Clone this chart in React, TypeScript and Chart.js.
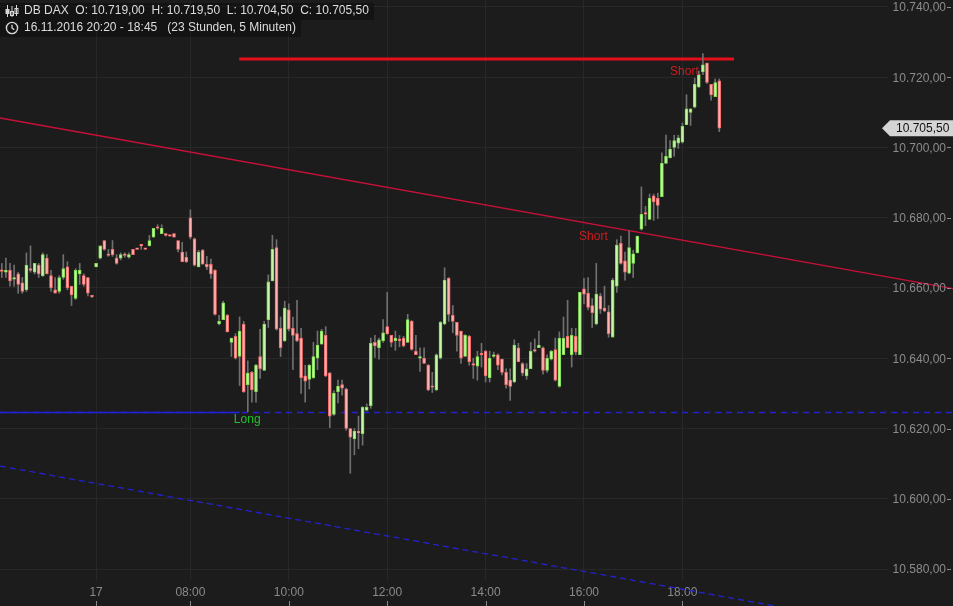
import React, { useEffect, useRef } from 'react';
import { Chart, registerables } from 'chart.js';

Chart.register(...registerables);

// ---- data (5-minute candles, DB DAX) ----
const OPEN = [
  10665, 10664.5, 10665, 10662.5, 10664, 10661.5, 10659.5, 10665.5, 10664.5, 10666.5,
  10663.5, 10668.5, 10663.5, 10659.5, 10659, 10663, 10666, 10660.5, 10657, 10664,
  10663.5, 10663, 10657.5, 10666, 10668.5, 10673.5, 10669.5, 10671, 10668.5, 10668.5,
  10669.5, 10668.75, 10671, 10671, 10672.25, 10671, 10672, 10674.5, 10677, 10675.5,
  10675.5, 10674.75, 10675.5, 10673.5, 10670.25, 10668.75, 10680, 10674, 10666, 10670.75,
  10666.75, 10666.75, 10665, 10649.75, 10651, 10652.25, 10644.5, 10646.25, 10640.5, 10649.75,
  10632.5, 10636, 10630.5, 10640.5, 10636.5, 10651, 10662, 10671.5, 10648.5, 10645,
  10653.75, 10648.5, 10647, 10645.75, 10635, 10634, 10634.5, 10640, 10644, 10646.5,
  10635.75, 10624, 10630.5, 10632.5, 10631.25, 10620, 10617, 10618.75, 10618.5, 10625.25,
  10626.5, 10644.5, 10643, 10645, 10649, 10646.5, 10645, 10645, 10645.75, 10644.5,
  10650.5, 10642, 10640, 10640, 10638, 10631.75, 10631, 10640, 10649.75, 10662.75,
  10652.25, 10650.25, 10647.75, 10640.5, 10646.25, 10638.5, 10637.75, 10641, 10642, 10634.5,
  10640.5, 10641, 10639.75, 10636, 10633.75, 10633.25, 10643, 10638.5, 10635, 10637,
  10642.5, 10643, 10643, 10636.5, 10639.75, 10642.5, 10632, 10641, 10646.25, 10641,
  10646.25, 10641, 10659.75, 10658.5, 10655, 10649.75, 10657.75, 10654.25, 10653.25, 10646,
  10660.5, 10672.75, 10667.75, 10664.25, 10667, 10670, 10676.75, 10681.5, 10679.5, 10686.25,
  10685.5, 10686, 10695.5, 10697, 10700, 10701.25, 10701.5, 10706.5, 10710, 10711.5,
  10717.25, 10721.5, 10724, 10718, 10714.5, 10719
];
const HIGH = [
  10667, 10668.5, 10667, 10666.5, 10664.5, 10663, 10670, 10672, 10667, 10667,
  10670, 10669.5, 10665, 10663, 10663.5, 10669.5, 10667.5, 10660.5, 10665.5, 10667,
  10664, 10663, 10657.75, 10667, 10672, 10673.5, 10671, 10673.5, 10669.5, 10670,
  10670, 10670, 10671, 10671, 10672.25, 10671, 10675, 10677, 10678, 10678,
  10675.5, 10674.75, 10675.5, 10673.5, 10673, 10670.25, 10682.25, 10674.25, 10670.75, 10671,
  10669, 10668.25, 10665.25, 10652.25, 10656.25, 10652.5, 10645.75, 10647, 10651.75, 10650.5,
  10639.25, 10636.25, 10638.25, 10648.25, 10650.5, 10663.75, 10675, 10673.75, 10651.75, 10656.25,
  10655.5, 10651.75, 10656.5, 10648.5, 10638, 10638.25, 10644.5, 10647.75, 10648.25, 10649,
  10636, 10630.75, 10633.75, 10633.75, 10631.5, 10620, 10620, 10623.5, 10626.25, 10627,
  10645.75, 10646.5, 10645.75, 10651, 10658.75, 10646.5, 10647.75, 10646.5, 10646.25, 10652.5,
  10650.75, 10646.5, 10643, 10643, 10638.25, 10636, 10641.25, 10650.5, 10665.75, 10663,
  10655, 10650.25, 10647.75, 10646.75, 10646.5, 10640, 10642, 10644.25, 10642.25, 10642,
  10641.75, 10641.25, 10639.75, 10637, 10637, 10645.25, 10644.25, 10638.75, 10638.5, 10644.5,
  10645.5, 10647.75, 10643.25, 10641, 10642.25, 10645.75, 10647.5, 10651.75, 10656.5, 10648.5,
  10648.5, 10658.75, 10662.75, 10663, 10657, 10667, 10658.5, 10660.5, 10655, 10662.75,
  10673.75, 10674.75, 10670.25, 10676.25, 10670.75, 10674.75, 10688.75, 10683.25, 10686.75, 10686.75,
  10687, 10698.5, 10703.5, 10702, 10703.5, 10703.5, 10707, 10715, 10711, 10719.75,
  10721.75, 10726.75, 10724, 10718, 10719.5, 10719.5
];
const LOW = [
  10663, 10663, 10660.5, 10660.5, 10658.5, 10658.5, 10659, 10664.5, 10664, 10663,
  10663.25, 10664, 10659, 10658.5, 10658.5, 10662.5, 10659.5, 10655, 10656.75, 10661,
  10660.5, 10657.75, 10657.25, 10666, 10668.25, 10670.75, 10669, 10669, 10666.75, 10668,
  10668.75, 10668.5, 10669.5, 10671, 10671, 10671, 10672, 10674.5, 10676.75, 10675.5,
  10674.75, 10674.75, 10674.5, 10670.25, 10667.5, 10667.25, 10674, 10666.25, 10666, 10666.75,
  10665.25, 10662.75, 10652.25, 10649.5, 10651, 10647.5, 10640.5, 10639.75, 10632.25, 10630.25,
  10624.75, 10627.5, 10627.5, 10634.25, 10636.5, 10648.75, 10662, 10648, 10640.5, 10644.75,
  10647.75, 10636.75, 10644.75, 10630, 10627.5, 10631.25, 10634.25, 10636.75, 10644, 10634.75,
  10620.25, 10623.75, 10627.25, 10629.5, 10619.5, 10607.25, 10612.5, 10614.25, 10615.25, 10625,
  10625.75, 10640.25, 10639.75, 10644.5, 10646.75, 10643.25, 10642.25, 10643.25, 10643.25, 10644.5,
  10642.25, 10641, 10636.25, 10638.5, 10630.75, 10630.25, 10630.75, 10639.75, 10649.5, 10650.5,
  10647.25, 10642, 10638.5, 10640.5, 10638, 10634.25, 10633.75, 10637.5, 10633.25, 10633.25,
  10640.25, 10636.75, 10635.25, 10631.5, 10628, 10633, 10639, 10635, 10634, 10637,
  10641.75, 10643, 10635.5, 10636, 10639.5, 10633.5, 10631.75, 10641, 10643, 10637.5,
  10641, 10641, 10655.5, 10653.75, 10648.75, 10649.5, 10652.75, 10653.25, 10646, 10646,
  10658.75, 10666.75, 10662.25, 10664, 10663, 10670, 10676.5, 10677.75, 10679.5, 10679.25,
  10679.75, 10686, 10695.5, 10697, 10697.5, 10699.75, 10701.25, 10706.5, 10706.25, 10711.25,
  10717, 10720.75, 10718.25, 10713.5, 10714.5, 10704.5
];
const CLOSE = [
  10664.75, 10665, 10662, 10663, 10661, 10659, 10666.5, 10665, 10667, 10664,
  10669.5, 10664, 10660, 10658.5, 10663, 10665.5, 10660, 10658, 10665, 10665,
  10661, 10658.5, 10657.5, 10667, 10672, 10671, 10669.25, 10669.5, 10667, 10669.5,
  10669.25, 10669.5, 10669.5, 10671, 10672, 10671, 10673.5, 10677, 10677, 10677,
  10675, 10674.75, 10674.5, 10671, 10667.5, 10667.5, 10674.5, 10666.5, 10670.25, 10666.75,
  10666, 10664, 10652.5, 10650.5, 10655.75, 10647.5, 10645.75, 10640, 10647.75, 10630.5,
  10635.75, 10631, 10638, 10637, 10649.75, 10661.75, 10671, 10648.25, 10643, 10654.25,
  10648.25, 10646.5, 10645, 10634.5, 10633.5, 10638, 10640.5, 10643.75, 10647.75, 10635,
  10623.5, 10630, 10632, 10631.5, 10620, 10617.5, 10619.25, 10618.75, 10626, 10626,
  10644.25, 10643.5, 10645.25, 10647.25, 10647, 10644.5, 10645.75, 10645, 10643.5, 10651,
  10642.5, 10641, 10640.5, 10638.5, 10631, 10631.75, 10641, 10650.25, 10662.25, 10652.5,
  10650.5, 10646.5, 10640, 10646.5, 10639, 10638, 10640.5, 10641, 10635, 10640,
  10641, 10638, 10636, 10632.5, 10632, 10643.75, 10639, 10635.75, 10637, 10642,
  10642, 10643.75, 10636.5, 10640, 10642, 10633.75, 10645.75, 10645.75, 10643, 10646.5,
  10641.75, 10658.75, 10658.25, 10654.5, 10653, 10658.25, 10654, 10653.5, 10647, 10662.25,
  10672.25, 10667, 10664.5, 10671.5, 10669.75, 10674.75, 10681, 10681, 10685.5, 10684.5,
  10683.5, 10695.5, 10697.5, 10699.5, 10702, 10702.75, 10706, 10711, 10711, 10718,
  10720.75, 10723.5, 10718.5, 10715, 10718.5, 10705.5
];

const X_TICK_INDEX = [23, 46, 70, 94, 118, 142, 166];
const X_TICK_LABELS = ['17', '08:00', '10:00', '12:00', '14:00', '16:00', '18:00'];
const X_MIN = -0.44;
const X_MAX = 216.15;
const Y_MIN = 10576.87;
const Y_MAX = 10741.99;
const Y_STEP = 20;

// drawn lines (candle index, price)
const RED_TREND_X = [-0.44, 232];
const RED_TREND_Y = [10708.4, 10659.8];
const BLUE_TREND_X = [-0.44, 232];
const BLUE_TREND_Y = [10609.3, 10560.35];
const SUPPORT_LEVEL = 10624.55;
const SUPPORT_SOLID_X = [-0.44, 58];
const SUPPORT_DASH_X = [-0.44, 232];
const RESIST_LEVEL = 10725.2;
const RESIST_X = [57.9, 178.6];

const NOTE_TEXT = ['Short', 'Short', 'Long'];
const NOTE_X = [163, 140.8, 56.6];
const NOTE_Y = [10721.5, 10674.5, 10622.4];
const NOTE_COLOR = ['#d01c1c', '#d01c1c', '#22c02a'];

const TITLE = 'DB DAX';
const PERIOD = '16.11.2016 20:20 - 18:45';
const DURATION = '(23 Stunden, 5 Minuten)';

const FONT = '"Liberation Sans", Arial, sans-serif';
const BG = '#1c1c1c';
const GRID = '#282828';
const GREEN_FILL = '#c6f6aa';
const GREEN_LINE = '#7ddb4e';
const RED_FILL = '#ffb3b3';
const RED_LINE = '#f26a6a';
const WICK = '#707070';

const fmt = (v: number) => {
  const [i, d] = v.toFixed(2).split('.');
  return i.replace(/\B(?=(\d{3})+(?!\d))/g, '.') + ',' + d;
};

const decor = {
  id: 'decor',
  beforeDraw(chart: any) {
    const { ctx, width, height } = chart;
    ctx.save();
    ctx.fillStyle = BG;
    ctx.fillRect(0, 0, width, height);
    ctx.restore();
  },
  afterDraw(chart: any) {
    const { ctx } = chart;
    const xs = chart.scales.x;
    const ys = chart.scales.y;
    ctx.save();
    ctx.font = '12px ' + FONT;
    // y labels
    ctx.fillStyle = '#8c8c8c';
    ctx.textAlign = 'right';
    ctx.textBaseline = 'middle';
    ys.ticks.forEach((t: any) => {
      const y = ys.getPixelForValue(t.value);
      ctx.fillText(fmt(t.value), 946, y + 1);
      ctx.fillRect(947, Math.round(y), 4, 1);
    });
    // x tick marks
    ctx.fillStyle = '#8a8a8a';
    X_TICK_INDEX.forEach((v) => {
      ctx.fillRect(Math.round(xs.getPixelForValue(v)), 601, 1, 5);
    });
    // notes
    ctx.textAlign = 'left';
    NOTE_TEXT.forEach((t, k) => {
      ctx.fillStyle = NOTE_COLOR[k];
      ctx.fillText(t, xs.getPixelForValue(NOTE_X[k]), ys.getPixelForValue(NOTE_Y[k]));
    });
    // last price box
    const last = CLOSE[CLOSE.length - 1];
    const py = ys.getPixelForValue(last);
    ctx.fillStyle = '#d4d4d4';
    ctx.beginPath();
    ctx.moveTo(882, py);
    ctx.lineTo(890, py - 8);
    ctx.lineTo(953, py - 8);
    ctx.lineTo(953, py + 8);
    ctx.lineTo(890, py + 8);
    ctx.closePath();
    ctx.fill();
    ctx.fillStyle = '#111';
    ctx.fillText(fmt(last), 896, py + 1);
    ctx.restore();
  },
};

const CandleIcon = () => (
  <svg width="14" height="14" viewBox="0 0 14 14" style={{ position: 'absolute', left: 5, top: 1 }}>
    <g stroke="#d8d8d8" strokeWidth="1" fill="none">
      <line x1="2.5" y1="1" x2="2.5" y2="13" />
      <rect x="1" y="5.5" width="3" height="4" fill="#d8d8d8" />
      <line x1="7" y1="2" x2="7" y2="13" />
      <rect x="5.5" y="7.5" width="3" height="4" />
      <line x1="11.5" y1="1" x2="11.5" y2="12" />
      <rect x="10" y="4.5" width="3" height="5" />
    </g>
  </svg>
);

const ClockIcon = () => (
  <svg width="14" height="14" viewBox="0 0 14 14" style={{ position: 'absolute', left: 5, top: 1 }}>
    <circle cx="7" cy="7" r="5.6" stroke="#d8d8d8" strokeWidth="1.4" fill="none" />
    <path d="M7 3.8 V7 L9.2 8.8" stroke="#d8d8d8" strokeWidth="1.3" fill="none" />
  </svg>
);

export default function App() {
  const ref = useRef<HTMLCanvasElement | null>(null);

  useEffect(() => {
    if (!ref.current) return;
    const idx = OPEN.map((_, i) => i);
    const up = idx.map((i) => CLOSE[i] > OPEN[i]);
    const lineBase = { type: 'line', pointRadius: 0, clip: false, fill: false, tension: 0 };
    const chart = new Chart(ref.current, {
      type: 'bar',
      data: {
        datasets: [
          {
            type: 'bar',
            data: idx.map((i) => ({ x: i, y: [OPEN[i], CLOSE[i]] })),
            backgroundColor: up.map((u) => (u ? GREEN_FILL : RED_FILL)),
            borderColor: up.map((u) => (u ? GREEN_LINE : RED_LINE)),
            borderWidth: 1,
            borderSkipped: false,
            barThickness: 3,
            grouped: false,
            minBarLength: 1.5,
          },
          {
            type: 'bar',
            data: idx.map((i) => ({ x: i, y: [LOW[i], HIGH[i]] })),
            backgroundColor: WICK,
            borderWidth: 0,
            barThickness: 1,
            grouped: false,
          },
          {
            ...lineBase,
            data: RESIST_X.map((x) => ({ x, y: RESIST_LEVEL })),
            borderColor: '#e3101c',
            borderWidth: 3,
          },
          {
            ...lineBase,
            data: RED_TREND_X.map((x, k) => ({ x, y: RED_TREND_Y[k] })),
            borderColor: '#c8103a',
            borderWidth: 1.3,
          },
          {
            ...lineBase,
            data: SUPPORT_SOLID_X.map((x) => ({ x, y: SUPPORT_LEVEL })),
            borderColor: '#2222d8',
            borderWidth: 1.5,
          },
          {
            ...lineBase,
            data: SUPPORT_DASH_X.map((x) => ({ x, y: SUPPORT_LEVEL })),
            borderColor: '#2222d0',
            borderWidth: 1.3,
            borderDash: [6, 5],
          },
          {
            ...lineBase,
            data: BLUE_TREND_X.map((x, k) => ({ x, y: BLUE_TREND_Y[k] })),
            borderColor: '#2222d0',
            borderWidth: 1.3,
            borderDash: [6, 4],
          },
        ] as any,
      },
      options: {
        responsive: false,
        animation: false,
        events: [],
        layout: { padding: 0 },
        plugins: { legend: { display: false }, tooltip: { enabled: false } },
        scales: {
          x: {
            type: 'linear',
            min: X_MIN,
            max: X_MAX,
            offset: false,
            afterBuildTicks: (s: any) => {
              s.ticks = X_TICK_INDEX.map((v) => ({ value: v }));
            },
            afterFit: (s: any) => {
              s.height = 26;
            },
            grid: { color: GRID, drawTicks: false, offset: false },
            border: { display: false },
            ticks: {
              color: '#8a8a8a',
              font: { family: FONT, size: 12 },
              padding: 5,
              maxRotation: 0,
              autoSkip: false,
              callback: (v: any) => {
                const k = X_TICK_INDEX.indexOf(Number(v));
                return k >= 0 ? X_TICK_LABELS[k] : '';
              },
            },
          },
          y: {
            type: 'linear',
            position: 'right',
            min: Y_MIN,
            max: Y_MAX,
            afterFit: (s: any) => {
              s.width = 65;
            },
            grid: { color: GRID, drawTicks: false },
            border: { display: false },
            ticks: { display: false, stepSize: Y_STEP, includeBounds: false },
          },
        },
      } as any,
      plugins: [decor],
    });
    return () => chart.destroy();
  }, []);

  const last = OPEN.length - 1;
  const rowStyle: React.CSSProperties = {
    position: 'absolute',
    left: 0,
    height: 17,
    lineHeight: '17px',
    paddingLeft: 24,
    paddingRight: 5,
    background: 'rgba(0,0,0,0.3)',
    color: '#dcdcdc',
    font: '12px ' + FONT,
    whiteSpace: 'pre',
  };

  return (
    <div style={{ position: 'fixed', left: 0, top: 0, width: 953, height: 606, overflow: 'hidden', background: BG }}>
      <canvas ref={ref} width={953} height={606} style={{ display: 'block', width: 953, height: 606 }} />
      <div style={{ ...rowStyle, top: 3 }}>
        <CandleIcon />
        {`${TITLE}  O: ${fmt(OPEN[last])}  H: ${fmt(HIGH[last])}  L: ${fmt(LOW[last])}  C: ${fmt(CLOSE[last])}`}
      </div>
      <div style={{ ...rowStyle, top: 20 }}>
        <ClockIcon />
        {`${PERIOD}   ${DURATION}`}
      </div>
    </div>
  );
}
